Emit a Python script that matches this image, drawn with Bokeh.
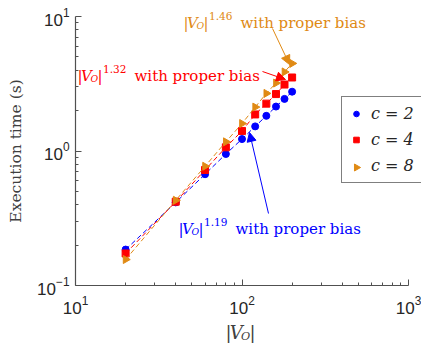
import math
from bokeh.plotting import figure
from bokeh.models import (FixedTicker, Label, Arrow, NormalHead, Legend, LegendItem,
                          Range1d, ColumnDataSource)
from bokeh.embed import file_html
from bokeh.resources import INLINE

# ---- data ----
n_vo = [20, 40, 60, 80, 100, 120, 140, 160, 180, 200]
t_c2 = [0.185, 0.415, 0.672, 0.95, 1.227, 1.524, 1.826, 2.14, 2.44, 2.76]
t_c4 = [0.173, 0.42, 0.723, 1.065, 1.41, 1.87, 2.25, 2.65, 3.12, 3.52]
t_c8 = [0.156, 0.43, 0.77, 1.17, 1.60, 2.12, 2.68, 3.2, 3.87, 4.48]
series_labels = ["c = 2", "c = 4", "c = 8"]
exps = ["1.19", "1.32", "1.46"]
x_major = [10, 100, 1000]
y_major = [0.1, 1, 10]

BLUE = "#0000FF"
RED = "#FF0000"
ORANGE = "#E08A14"
AX = "#262626"
SERIF = "DejaVu Serif"

W, H = 421, 343
# pixel geometry of the axes box on the canvas (layout only)
FL, FT, FR, FB = 75, 16, 408, 285
DX = (FR - FL) / 2.0   # px per decade in x
DY = (FB - FT) / 2.0   # px per decade in y


def px2data(px, py):
    x = 10 ** (1 + (px - FL) / DX)
    y = 10 ** (1 - (py - FT) / DY)
    return x, y


x0, y1 = px2data(0, H)
x1, y0 = px2data(W, 0)

p = figure(width=W, height=H, x_axis_type="log", y_axis_type="log",
           x_range=Range1d(x0, x1), y_range=Range1d(y1, y0),
           output_backend="svg", toolbar_location=None,
           min_border=0, min_border_left=0, min_border_right=0,
           min_border_top=0, min_border_bottom=0)
p.outline_line_color = None
p.grid.visible = False
p.background_fill_color = "white"
p.border_fill_color = "white"

p.xaxis.ticker = FixedTicker(ticks=x_major,
                             minor_ticks=[m * 10 ** e for e in (1, 2) for m in range(2, 10)])
p.yaxis.ticker = FixedTicker(ticks=y_major,
                             minor_ticks=[m * 10 ** e for e in (-1, 0) for m in range(2, 10)])
p.xaxis.fixed_location = y_major[0]
p.yaxis.fixed_location = x_major[0]
p.xaxis.bounds = (x_major[0], x_major[-1])
p.yaxis.bounds = (y_major[0], y_major[-1])
for ax in (p.xaxis, p.yaxis):
    ax.axis_line_color = "#505050"
    ax.axis_line_width = 1.2
    ax.major_tick_line_color = "#505050"
    ax.minor_tick_line_color = "#505050"
    ax.major_tick_in = 6
    ax.major_tick_out = 0
    ax.minor_tick_in = 3
    ax.minor_tick_out = 0
    ax.major_label_text_font = "Liberation Sans"
    ax.major_label_text_font_size = "17px"
    ax.major_label_text_color = AX
p.yaxis.major_label_standoff = 6
p.xaxis.major_label_standoff = 10

p.yaxis.axis_label = "Execution time (s)"
p.yaxis.axis_label_text_font = SERIF
p.yaxis.axis_label_text_font_style = "normal"
p.yaxis.axis_label_text_font_size = "15.5px"
p.yaxis.axis_label_text_color = "#404040"
p.yaxis.axis_label_standoff = 9

renderers = []
for ys, col, mk, sz, ang in [(t_c2, BLUE, "circle", 7, 0.0),
                             (t_c4, RED, "square", 7, 0.0),
                             (t_c8, ORANGE, "triangle", 8, -90.0)]:
    src = ColumnDataSource(dict(x=n_vo, y=ys, a=[ang] * len(n_vo)))
    p.line("x", "y", source=src, line_color=col, line_dash="5 3", line_width=1)
    r = p.scatter("x", "y", source=src, marker=mk, size=sz, angle="a", angle_units="deg",
                  fill_color=col, line_color=col)
    renderers.append(r)

# the legend cannot rotate marker glyphs: a transparent stand-in for c = 8,
# with a right-pointing key drawn beneath the (transparent) legend box
blank = p.scatter(x=[n_vo[0]], y=[t_c8[0]], marker="triangle", size=8,
                  fill_alpha=0, line_alpha=0)
legend_renderers = [renderers[0], renderers[1], blank]

LEG_L, LEG_T, LEG_B = 341, 98, 183
legend = Legend(items=[LegendItem(label=l, renderers=[r])
                       for l, r in zip(series_labels, legend_renderers)],
                location=(LEG_L, H - LEG_B), border_line_color="black", border_line_width=1,
                label_text_font=SERIF, label_text_font_style="italic",
                label_text_font_size="16px", label_text_color=AX,
                glyph_width=14, glyph_height=19, label_height=19,
                spacing=7, padding=7, margin=0, label_standoff=8,
                background_fill_alpha=0.0)
p.add_layout(legend)

kx, ky = px2data(356, 167)
p.scatter(x=[kx], y=[ky], marker="triangle", size=7, angle=-90, angle_units="deg",
          fill_color=ORANGE, line_color=ORANGE)


def vo_text(px, py, color, size, exp=None, suffix=None):
    x, y = px2data(px, py)
    s = size / 15.0
    pieces = [("|", 0, 0, size, "normal"),
              ("V", 3.5 * s, 0, size, "italic"),
              ("O", 13 * s, -3 * s, size * 0.62, "italic"),
              ("|", 20 * s, 0, size, "normal")]
    if exp:
        pieces.append((exp, 25.5 * s, 7 * s, size * 0.7, "normal"))
    if suffix:
        pieces.append((suffix, 57 * s, 0, size, "normal"))
    for txt, dx, dy, fs, style in pieces:
        p.add_layout(Label(x=x, y=y, x_offset=dx, y_offset=dy, text=txt,
                           text_font=SERIF, text_font_style=style,
                           text_font_size=f"{fs:.1f}px", text_color=color,
                           text_baseline="alphabetic", text_align="left"))


def arrow(p0, p1, color):
    xs, ys = px2data(*p0)
    xe, ye = px2data(*p1)
    p.add_layout(Arrow(x_start=xs, y_start=ys, x_end=xe, y_end=ye,
                       line_color=color, line_width=1,
                       end=NormalHead(size=9, fill_color=color, line_color=color)))


vo_text(183, 22, ORANGE, 15, exps[2], "with proper bias")
vo_text(77, 75, RED, 15, exps[1], "with proper bias")
vo_text(178, 228, BLUE, 15, exps[0], "with proper bias")
arrow((272, 28), (289, 64), ORANGE)
arrow((262, 71), (285, 79), RED)
arrow((268, 213), (249, 132), BLUE)

# x-axis label |V_O|
vo_text(225, 332, "#404040", 18)

open("out.html", "w").write(file_html(p, INLINE))
